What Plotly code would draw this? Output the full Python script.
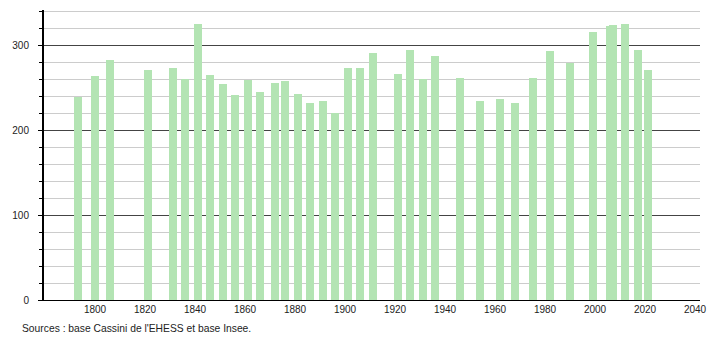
import plotly.graph_objects as go

years = [1793, 1800, 1806, 1821, 1831, 1836, 1841, 1846, 1851, 1856,
         1861, 1866, 1872, 1876, 1881, 1886, 1891, 1896, 1901, 1906,
         1911, 1921, 1926, 1931, 1936, 1946, 1954, 1962, 1968, 1975,
         1982, 1990, 1999, 2006, 2007, 2012, 2017, 2021]
population = [239, 264, 282, 271, 273, 260, 325, 265, 254, 241,
              259, 245, 255, 258, 242, 232, 234, 220, 273, 273,
              291, 266, 294, 260, 287, 261, 234, 236, 232, 261,
              293, 279, 315, 322, 323, 325, 294, 271]

x_ticks = [1800, 1820, 1840, 1860, 1880, 1900, 1920, 1940, 1960, 1980, 2000, 2020, 2040]
y_ticks = [0, 100, 200, 300]
source_text = "Sources : base Cassini de l'EHESS et base Insee."

fig = go.Figure()
fig.add_trace(go.Bar(
    x=years, y=population, width=3.2,
    marker=dict(color="rgb(179,228,179)", line=dict(width=0)),
    hoverinfo="x+y",
))

font = dict(family="Liberation Sans, Arial, sans-serif", size=10, color="#222")
src_font = dict(family="Liberation Sans, Arial, sans-serif", size=10.3, color="#222")

fig.update_layout(
    width=710, height=340,
    margin=dict(l=44, r=10, t=10, b=40, autoexpand=False),
    paper_bgcolor="white", plot_bgcolor="white",
    showlegend=False,
    font=font,
    bargap=0,
    xaxis=dict(
        range=[1779.6, 2042.0],
        tickmode="array", tickvals=x_ticks,
        ticktext=[str(t) for t in x_ticks],
        showgrid=False, zeroline=False,
        showline=True, linecolor="#000", linewidth=1,
        ticks="", ticklen=0,
        tickfont=font, automargin=False,
    ),
    yaxis=dict(
        range=[0, 341.2],
        tickmode="array", tickvals=y_ticks,
        showgrid=True, gridcolor="#444", gridwidth=1,
        zeroline=False,
        showline=True, linecolor="#000", linewidth=2,
        ticks="outside", ticklen=4, tickcolor="#000", tickwidth=1,
        ticklabelstandoff=7,
        tickfont=font, automargin=False,
        minor=dict(dtick=20, tick0=0, showgrid=True, gridcolor="#cccccc",
                   gridwidth=1, ticks="outside", ticklen=3, tickcolor="#000"),
        layer="below traces",
    ),
    annotations=[dict(
        text=source_text, xref="paper", yref="paper",
        x=-24 / 656, y=-28 / 290, xanchor="left", yanchor="middle",
        showarrow=False, font=src_font,
    )],
)

fig.write_html("out.html")
